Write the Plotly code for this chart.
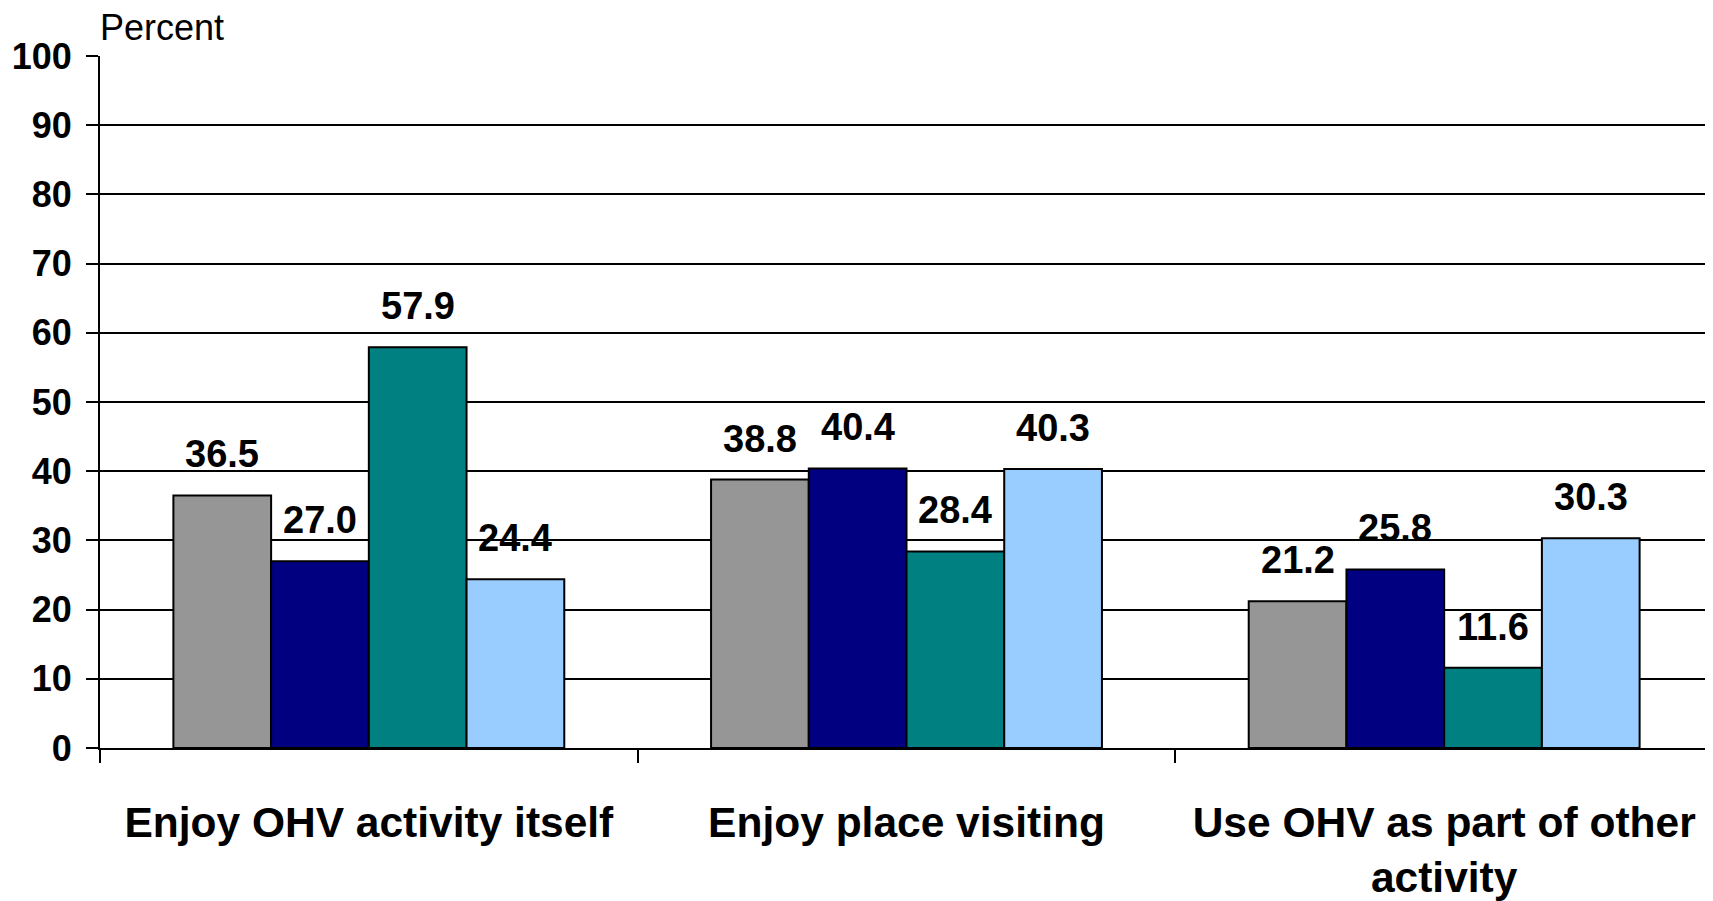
import plotly.graph_objects as go

categories = ["Enjoy OHV activity itself", "Enjoy place visiting", "Use OHV as part of other<br>activity"]
series_names = ["Series 1", "Series 2", "Series 3", "Series 4"]
series_values = [
    [36.5, 38.8, 21.2],
    [27.0, 40.4, 25.8],
    [57.9, 28.4, 11.6],
    [24.4, 40.3, 30.3],
]
series_colors = ["#969696", "#000080", "#008080", "#99CCFF"]
y_ticks = [0, 10, 20, 30, 40, 50, 60, 70, 80, 90, 100]

FONT = "Arial, 'Liberation Sans', sans-serif"
BARGAP = 0.273

fig = go.Figure()
for name, vals, col in zip(series_names, series_values, series_colors):
    fig.add_trace(go.Bar(
        name=name, x=categories, y=vals,
        marker=dict(color=col, line=dict(color="black", width=2)),
        hoverinfo="y",
    ))

# value labels above each bar, positioned through the category axis scale
n = len(series_values)
group_w = 1 - BARGAP
for i, vals in enumerate(series_values):
    off = -group_w / 2 + (i + 0.5) * group_w / n
    for j, v in enumerate(vals):
        fig.add_annotation(
            x=j + off, y=v, xref="x", yref="y",
            text=f"{v:.1f}", showarrow=False,
            yanchor="bottom", yshift=18,
            font=dict(family=FONT, size=38, color="black", weight="bold"),
        )

fig.add_annotation(
    x=0, y=1, xref="paper", yref="paper", xanchor="left", yanchor="bottom",
    text="Percent", showarrow=False, yshift=6, xshift=-2,
    font=dict(family=FONT, size=36, color="black"),
)

fig.update_layout(
    width=1705, height=893,
    margin=dict(l=92, r=0, t=48, b=153),
    barmode="group", bargap=BARGAP, bargroupgap=0,
    plot_bgcolor="white", paper_bgcolor="white",
    showlegend=False,
    font=dict(family=FONT, color="black"),
)
fig.update_yaxes(
    range=[0, 100], tickvals=y_ticks,
    showgrid=True, gridcolor="black", gridwidth=2,
    zeroline=False,
    showline=True, linecolor="black", linewidth=2,
    ticks="outside", ticklen=12, tickwidth=2, tickcolor="black",
    ticklabelstandoff=7,
    tickfont=dict(family=FONT, size=36, color="black", weight="bold"),
)
fig.update_xaxes(
    showline=True, linecolor="black", linewidth=2,
    ticks="outside", ticklen=13, tickwidth=2, tickcolor="black",
    tickson="boundaries",
    ticklabelstandoff=36,
    tickfont=dict(family=FONT, size=42.5, color="black", weight="bold"),
)

fig.write_html("out.html")
